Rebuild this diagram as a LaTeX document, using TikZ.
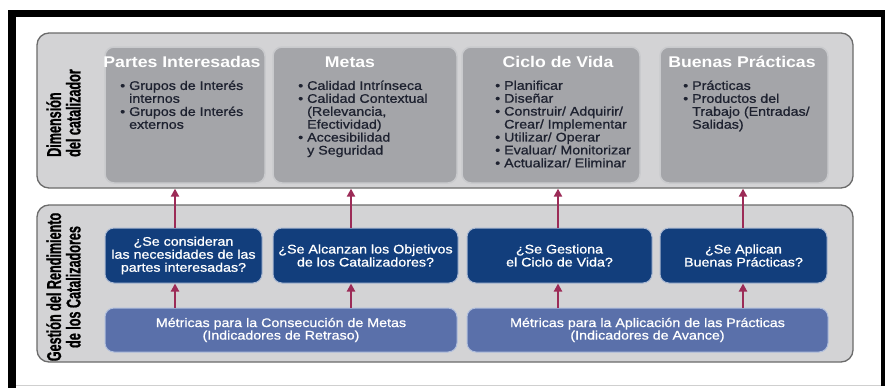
\documentclass[tikz,border=0pt]{standalone}
\usepackage{fontspec}
\setmainfont{Liberation Sans}[FakeStretch=1.14]
\newfontfamily\medfont{Liberation Sans}[FakeStretch=1.14,FakeBold=0.9]
\newfontfamily\vfont{Liberation Sans}[FakeStretch=0.63,FakeBold=0.8]
\usetikzlibrary{arrows.meta}
\definecolor{panelfill}{HTML}{D3D3D5}
\definecolor{paneledge}{HTML}{6B6B6B}
\definecolor{boxfill}{HTML}{A4A5A9}
\definecolor{boxedge}{HTML}{C9CACD}
\definecolor{qfill}{HTML}{123E7C}
\definecolor{qedge}{HTML}{A9B8D2}
\definecolor{mfill}{HTML}{5A70AA}
\definecolor{medge}{HTML}{B0BEDC}
\definecolor{arrowc}{HTML}{9C2B57}
\definecolor{bullettext}{HTML}{1E2230}
\definecolor{frameline}{HTML}{CFCFCF}
\tikzset{
  outerpanel/.style={draw=paneledge, fill=panelfill, line width=1.3pt, rounded corners=12pt, inner sep=0pt, minimum width=816pt},
  graybox/.style={draw=boxedge, fill=boxfill, line width=1.5pt, rounded corners=9pt, inner sep=0pt, minimum height=136pt},
  qbox/.style={draw=qedge, fill=qfill, line width=1pt, rounded corners=9pt, inner sep=0pt, minimum height=55pt, align=center, text=white, font=\medfont\fontsize{12.5}{13}\selectfont},
  mbox/.style={draw=medge, fill=mfill, line width=1pt, rounded corners=9pt, inner sep=0pt, minimum height=44pt, align=center, text=white, font=\medfont\fontsize{12.5}{12.5}\selectfont},
  boxtitle/.style={text=white, inner sep=0pt, font=\bfseries\fontsize{15.5}{17}\selectfont},
  bulletlist/.style={anchor=north west, inner sep=0pt, text=bullettext, font=\medfont\fontsize{12.5}{12.9}\selectfont},
  vlabel/.style={rotate=90, inner sep=0pt, text=black, font=\vfont\bfseries\fontsize{20}{19.5}\selectfont},
  arr/.style={draw=arrowc, line width=2pt, -{Triangle[width=8pt,length=8pt]}}
}
\begin{document}
\begin{tikzpicture}[x=1pt,y=-1pt]
\useasboundingbox (0,0) rectangle (885,388);
\fill[white] (0,0) rectangle (885,388);
% frame
\fill[black] (8,10) rectangle (885,17);
\fill[black] (8,10) rectangle (16,388);
\fill[black] (881,10) rectangle (885,386);
\draw[frameline, line width=1pt] (16,385.5) -- (881,385.5);

% outer panels
\node[outerpanel, minimum height=155pt] (dim) at (445,110.5) {};
\node[outerpanel, minimum height=157pt] (ges) at (445,283.5) {};

% vertical labels
\node[vlabel, anchor=west, align=left] (diml) at (63.5,157) {Dimensión\\del catalizador};
\node[vlabel, align=center] (gesl) at (63.5,287) {Gestión del Rendimiento\\de los Catalizadores};

% upper gray boxes
\node[graybox, minimum width=160pt] (pi) at (185,115) {};
\node[graybox, minimum width=184pt] (me) at (365,115) {};
\node[graybox, minimum width=178pt] (cv) at (551,115) {};
\node[graybox, minimum width=168pt] (bp) at (744,115) {};

\node[boxtitle] (pit) at (182,62) {Partes Interesadas};
\node[boxtitle] (met) at (350,62) {Metas};
\node[boxtitle] (cvt) at (558,62) {Ciclo de Vida};
\node[boxtitle] (bpt) at (742,62) {Buenas Prácticas};

\node[bulletlist] (pil) at (120,80.5) {\begin{tabular}{@{}l@{\hspace{4pt}}l@{}}
\textbullet & Grupos de Interés\\ & internos\\
\textbullet & Grupos de Interés\\ & externos\end{tabular}};
\node[bulletlist] (mel) at (298,80.5) {\begin{tabular}{@{}l@{\hspace{4pt}}l@{}}
\textbullet & Calidad Intrínseca\\
\textbullet & Calidad Contextual\\ & (Relevancia,\\ & Efectividad)\\
\textbullet & Accesibilidad\\ & y Seguridad\end{tabular}};
\node[bulletlist] (cvl) at (495,80.5) {\begin{tabular}{@{}l@{\hspace{4pt}}l@{}}
\textbullet & Planificar\\
\textbullet & Diseñar\\
\textbullet & Construir/ Adquirir/\\ & Crear/ Implementar\\
\textbullet & Utilizar/ Operar\\
\textbullet & Evaluar/ Monitorizar\\
\textbullet & Actualizar/ Eliminar\end{tabular}};
\node[bulletlist] (bpl) at (683,80.5) {\begin{tabular}{@{}l@{\hspace{4pt}}l@{}}
\textbullet & Prácticas\\
\textbullet & Productos del\\ & Trabajo (Entradas/\\ & Salidas)\end{tabular}};

% question boxes
\node[qbox, minimum width=157pt] (q1) at (183.5,255.5) {¿Se consideran\\las necesidades de las\\partes interesadas?};
\node[qbox, minimum width=185pt] (q2) at (365.5,255.5) {¿Se Alcanzan los Objetivos\\de los Catalizadores?};
\node[qbox, minimum width=185pt] (q3) at (559.5,255.5) {¿Se Gestiona\\el Ciclo de Vida?};
\node[qbox, minimum width=167pt] (q4) at (743.5,255.5) {¿Se Aplican\\Buenas Prácticas?};

% metric boxes
\node[mbox, minimum width=352pt] (m1) at (281,330) {Métricas para la Consecución de Metas\\(Indicadores de Retraso)};
\node[mbox, minimum width=361pt] (m2) at (647.5,330) {Métricas para la Aplicación de las Prácticas\\(Indicadores de Avance)};

% arrow columns
\coordinate (a1) at (175,0);
\coordinate (a2) at (351,0);
\coordinate (a3) at (558,0);
\coordinate (a4) at (743,0);

\draw[arr] (q1.north -| a1) -- (dim.south -| a1);
\draw[arr] (q2.north -| a2) -- (dim.south -| a2);
\draw[arr] (q3.north -| a3) -- (dim.south -| a3);
\draw[arr] (q4.north -| a4) -- (dim.south -| a4);

\draw[arr] (m1.north -| a1) -- (q1.south -| a1);
\draw[arr] (m1.north -| a2) -- (q2.south -| a2);
\draw[arr] (m2.north -| a3) -- (q3.south -| a3);
\draw[arr] (m2.north -| a4) -- (q4.south -| a4);
\end{tikzpicture}
\end{document}
